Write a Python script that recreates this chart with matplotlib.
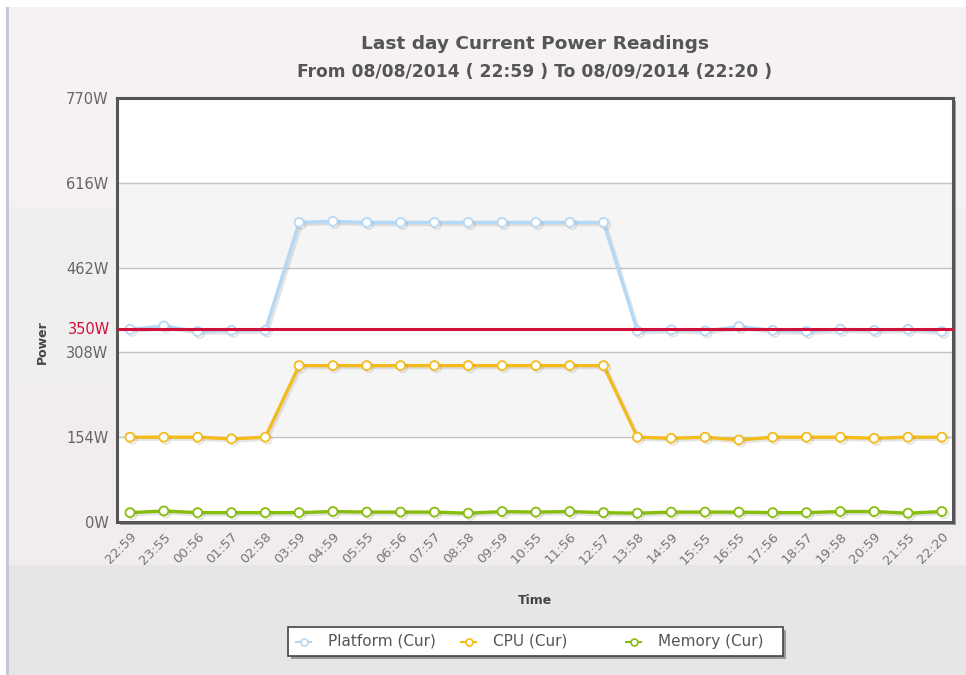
import matplotlib
matplotlib.use("Agg")
import matplotlib.pyplot as plt
import matplotlib.patheffects as pe
from matplotlib.patches import Rectangle
from matplotlib.lines import Line2D
import numpy as np

times = ["22:59", "23:55", "00:56", "01:57", "02:58", "03:59", "04:59", "05:55",
         "06:56", "07:57", "08:58", "09:59", "10:55", "11:56", "12:57", "13:58",
         "14:59", "15:55", "16:55", "17:56", "18:57", "19:58", "20:59", "21:55", "22:20"]
platform = [350, 356, 346, 348, 348, 544, 546, 544, 544, 544, 544, 544, 544, 544, 544,
            347, 349, 347, 355, 348, 346, 350, 348, 350, 346]
cpu = [154, 154, 154, 151, 154, 284, 284, 284, 284, 284, 284, 284, 284, 284, 284,
       154, 152, 154, 149, 154, 154, 154, 152, 154, 154]
memory = [17, 20, 17, 17, 17, 17, 19, 18, 18, 18, 16, 19, 18, 19, 17,
          16, 18, 18, 18, 17, 17, 19, 19, 16, 19]
yticks = [0, 154, 308, 462, 616, 770]
threshold = 350
series_names = ["Platform (Cur)", "CPU (Cur)", "Memory (Cur)"]
series_colors = ["#b5d8f5", "#f4bb1c", "#88bd0d"]

W, H = 966, 675
fig = plt.figure(figsize=(W / 100, H / 100), dpi=100)
fig.patch.set_facecolor("white")

def px_rect(x0, y0, x1, y1, color, z=-10, ec="none", lw=0):
    r = Rectangle((x0 / W, 1 - y1 / H), (x1 - x0) / W, (y1 - y0) / H,
                  transform=fig.transFigure, facecolor=color,
                  edgecolor=ec, linewidth=lw, zorder=z)
    fig.patches.append(r)
    return r

# background bands
px_rect(9, 7, W, H, "#f5f1f4")
px_rect(9, 207, W, 385, "#efefef")
px_rect(9, 385, W, 565, "#f0ecef")
px_rect(9, 565, W, H, "#e6e6e6")
px_rect(6, 7, 9, H, "#c5c9d6")

# plot area
L, R, T, B = 117, 953, 98, 522
px_rect(L + 3, T + 3, R + 3, B + 3, "#a0a0a0", z=-5)
ax = fig.add_axes([L / W, 1 - B / H, (R - L) / W, (B - T) / H])
ax.set_facecolor("white")

x = np.arange(len(times))
ax.set_xlim(-0.384, len(times) - 1 + 0.33)
ax.set_ylim(yticks[0], yticks[-1])

for i in range(len(yticks) - 1):
    if i % 2 == 1:
        ax.axhspan(yticks[i], yticks[i + 1], color="#f5f5f5", zorder=0)
for v in yticks[1:-1]:
    ax.axhline(v, color="#c4c4c4", lw=1.0, zorder=1)

shadow = [pe.SimpleLineShadow(offset=(1.5, -1.5), shadow_color="#888888", alpha=0.22),
          pe.Normal()]
for vals, name, col in zip([platform, cpu, memory], series_names, series_colors):
    ax.plot(x, vals, color=col, lw=2.4, marker="o", ms=6.5,
            markerfacecolor="white", markeredgecolor=col, markeredgewidth=1.3,
            zorder=3, label=name, path_effects=shadow)

ax.axhline(threshold, color="#d0103a", lw=2.2, zorder=4)

for s in ax.spines.values():
    s.set_color("#555555")
    s.set_linewidth(2.2)

ax.set_yticks(yticks)
ax.set_yticklabels([f"{v}W" for v in yticks], fontsize=10.5, color="#666666",
                   family="DejaVu Sans")
ax.tick_params(axis="y", length=0, pad=6)
ax.text(-0.008, threshold, f"{threshold}W", transform=ax.get_yaxis_transform(),
        ha="right", va="center", fontsize=10.5, color="#d0103a", family="DejaVu Sans")

ax.set_xticks(x)
ax.set_xticklabels(times, rotation=45, ha="right", va="top", rotation_mode="anchor",
                   fontsize=9.5, color="#777777", family="DejaVu Sans")
ax.tick_params(axis="x", length=0, pad=6)

fig.text(42 / W, 1 - 342 / H, "Power", rotation=90, ha="center", va="center",
         fontsize=9, fontweight="bold", color="#444444", family="DejaVu Sans")
fig.text(535 / W, 1 - 600 / H, "Time", ha="center", va="center",
         fontsize=9, fontweight="bold", color="#444444", family="DejaVu Sans")

fig.text(535 / W, 1 - 44 / H, "Last day Current Power Readings", ha="center", va="center",
         fontsize=13.3, fontweight="bold", color="#555555", family="DejaVu Sans")
fig.text(535 / W, 1 - 72 / H, "From 08/08/2014 ( 22:59 ) To 08/09/2014 (22:20 )",
         ha="center", va="center", fontsize=12.3, fontweight="bold", color="#555555",
         family="DejaVu Sans")

# legend box (manual, fixed-width columns)
LX0, LY0, LX1, LY1 = 288, 627, 783, 656
px_rect(LX0 + 3, LY0 + 3, LX1 + 3, LY1 + 3, "#9a9a9a", z=5)
px_rect(LX0, LY0, LX1, LY1, "white", z=6, ec="#444444", lw=1.2)
ly = 1 - (LY0 + LY1) / 2 / H
for i, (name, col) in enumerate(zip(series_names, series_colors)):
    hx = 296 + i * 165
    fig.lines.append(Line2D([hx / W, (hx + 15) / W], [ly, ly], transform=fig.transFigure,
                            color=col, lw=1.5, zorder=7))
    fig.lines.append(Line2D([(hx + 7.5) / W], [ly], transform=fig.transFigure,
                            marker="o", ms=5, markerfacecolor="white",
                            markeredgecolor=col, markeredgewidth=1.2, zorder=8))
    fig.text((hx + 32) / W, ly, name, ha="left", va="center", fontsize=11,
             color="#555555", family="DejaVu Sans", zorder=8)

fig.savefig("out.png", dpi=100)
